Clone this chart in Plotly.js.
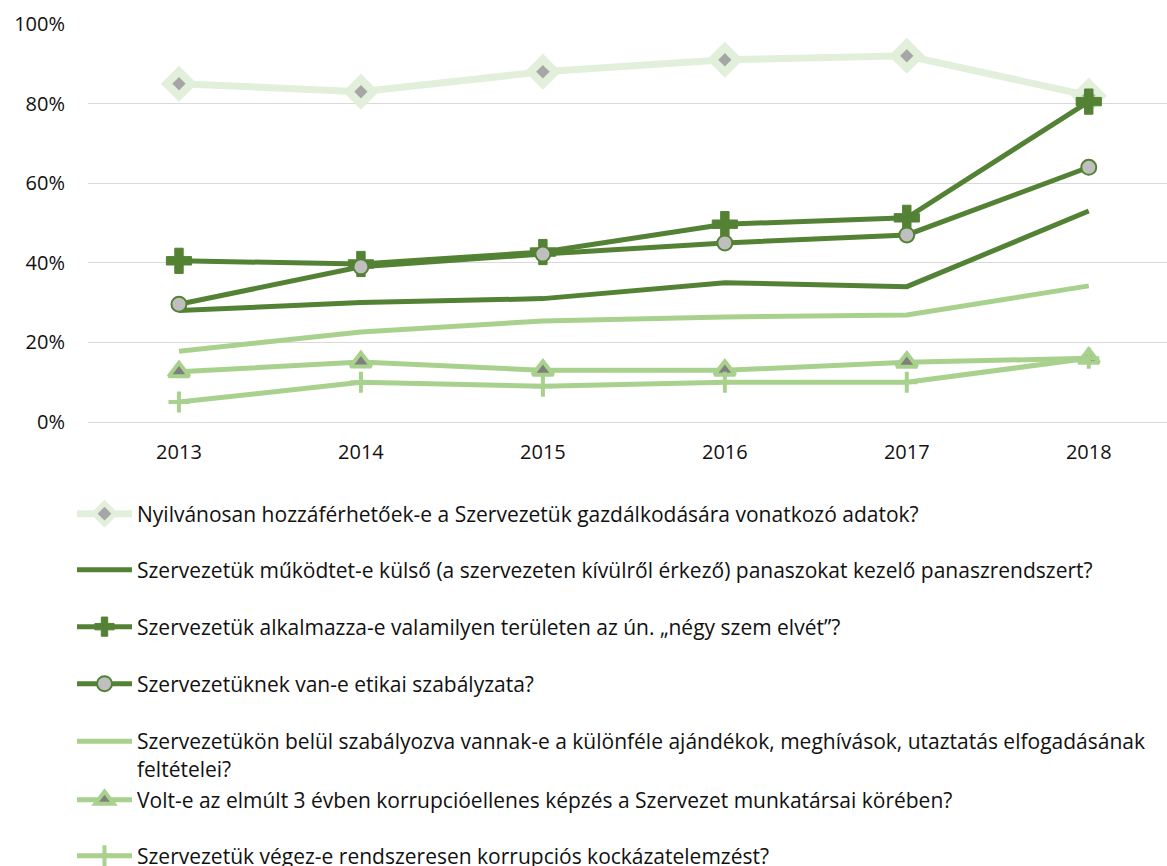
<!DOCTYPE html>
<html>
<head>
<meta charset="utf-8">
<script src="https://cdn.plot.ly/plotly-3.0.1.min.js"></script>
<style>
html,body{margin:0;padding:0;background:#fff;}
#chart{width:1167px;height:866px;}
</style>
</head>
<body>
<div id="chart"></div>
<script>
var years = ['2013','2014','2015','2016','2017','2018'];
var names = [
  'Nyilvánosan hozzáférhetőek-e a Szervezetük gazdálkodására vonatkozó adatok?',
  'Szervezetük működtet-e külső (a szervezeten kívülről érkező) panaszokat kezelő panaszrendszert?',
  'Szervezetük alkalmazza-e valamilyen területen az ún. „négy szem elvét”?',
  'Szervezetüknek van-e etikai szabályzata?',
  'Szervezetükön belül szabályozva vannak-e a különféle ajándékok, meghívások, utaztatás elfogadásának<br>feltételei?',
  'Volt-e az elmúlt 3 évben korrupcióellenes képzés a Szervezet munkatársai körében?',
  'Szervezetük végez-e rendszeresen korrupciós kockázatelemzést?'
];
var nyilvanos = [85, 83, 88, 91, 92, 82];
var panasz = [28, 30, 31, 35, 34, 53];
var negySzem = [40.5, 39.7, 42.7, 49.7, 51.3, 80.5];
var etikai = [29.6, 39, 42.2, 45, 47, 64];
var ajandek = [17.8, 22.6, 25.4, 26.4, 26.9, 34.2];
var kepzes = [12.6, 15.1, 13, 13, 15, 16];
var kockazat = [5, 10, 9, 10, 10, 16];

var dark = '#548235', light = '#A9D18E', pale = '#E2EFDA';

var traces = [
  {y: nyilvanos, line:{color:pale, width:7}, mode:'lines+markers',
   marker:{symbol:'diamond', size:19, color:'#A6A6A6', line:{color:pale, width:8}}},
  {y: panasz, line:{color:dark, width:5}, mode:'lines'},
  {y: negySzem, line:{color:dark, width:5}, mode:'lines+markers',
   marker:{symbol:'cross', size:21, color:dark, line:{color:dark, width:1}}},
  {y: etikai, line:{color:dark, width:5}, mode:'lines+markers',
   marker:{symbol:'circle', size:15, color:'#BFBFBF', line:{color:dark, width:2}}},
  {y: ajandek, line:{color:light, width:5}, mode:'lines'},
  {y: kepzes, line:{color:light, width:5}, mode:'lines+markers',
   marker:{symbol:'triangle-up', size:18, color:'#7F7F7F', line:{color:light, width:4}}},
  {y: kockazat, line:{color:light, width:5}, mode:'lines+markers',
   marker:{symbol:'cross-thin', size:15, color:light, line:{color:light, width:4}}}
];
var legendY = [514, 570, 627, 684, 741, 800, 856];
var layout = {
  width:1167, height:866,
  margin:{l:88, r:0, t:24, b:444, autoexpand:false},
  paper_bgcolor:'#fff', plot_bgcolor:'#fff',
  font:{family:'Open Sans, sans-serif', color:'#111', size:20},
  xaxis:{type:'category', range:[-0.5, 5.43], showgrid:false, showline:false, zeroline:false,
    ticks:'', tickangle:0, automargin:false, tickfont:{size:20, color:'#111'}, ticklabelstandoff:16, fixedrange:true},
  yaxis:{range:[0,100], dtick:20, ticksuffix:'%', showgrid:true, gridcolor:'#D9D9D9', gridwidth:1,
    automargin:false, zeroline:true, zerolinecolor:'#D9D9D9', zerolinewidth:1, showline:false, ticks:'',
    tickfont:{size:20, color:'#111'}, ticklabelstandoff:22, fixedrange:true},
  showlegend:true
};
traces.forEach(function(t, i){
  t.x = years; t.name = names[i]; t.type='scatter';
  var key = i === 0 ? 'legend' : 'legend' + (i+1);
  t.legend = key;
  layout[key] = {xref:'container', yref:'container', x: 72/1167, xanchor:'left',
    y: 1 - legendY[i]/866, yanchor: i === 4 ? 'top' : 'middle',
    valign: i === 4 ? 'top' : 'middle',
    bgcolor:'rgba(0,0,0,0)', borderwidth:0, itemwidth:55,
    font:{family:'Open Sans, sans-serif', size:21, color:'#111'}};
  if (i === 4) layout[key].y = 1 - (741-20)/866;
});
Plotly.newPlot('chart', traces, layout, {displayModeBar:false, staticPlot:true});
</script>
</body>
</html>
